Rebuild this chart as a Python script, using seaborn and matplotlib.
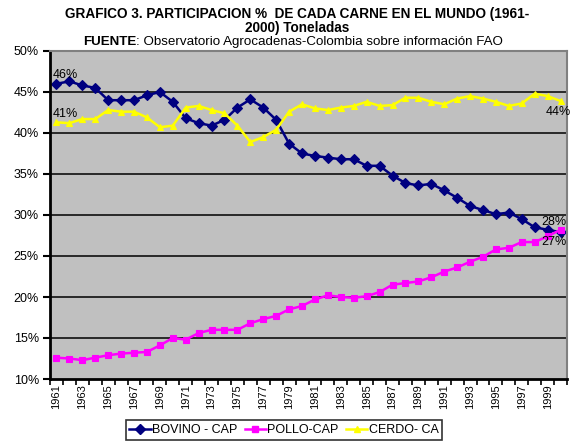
import numpy as np
import pandas as pd
import matplotlib
matplotlib.use("Agg")
import matplotlib.pyplot as plt
from matplotlib.ticker import FixedLocator, FuncFormatter
import seaborn as sns

years = list(range(1961, 2001))
bovino = [46.0, 46.3, 45.8, 45.5, 44.0, 44.0, 44.0, 44.6, 45.0, 43.8,
          41.8, 41.2, 40.9, 41.6, 43.1, 44.1, 43.1, 41.6, 38.7, 37.5,
          37.2, 37.0, 36.8, 36.8, 36.0, 36.0, 34.8, 33.9, 33.6, 33.8,
          33.0, 32.1, 31.1, 30.6, 30.1, 30.3, 29.5, 28.5, 28.2, 27.9]
pollo = [12.6, 12.5, 12.3, 12.6, 12.9, 13.1, 13.2, 13.3, 14.1, 15.0,
         14.8, 15.6, 16.0, 16.0, 16.0, 16.8, 17.3, 17.7, 18.5, 18.9,
         19.7, 20.2, 20.0, 19.9, 20.1, 20.6, 21.5, 21.7, 21.9, 22.4,
         23.1, 23.6, 24.3, 24.9, 25.8, 26.0, 26.7, 26.7, 27.4, 28.2]
cerdo = [41.3, 41.2, 41.7, 41.7, 42.8, 42.6, 42.6, 41.9, 40.7, 40.9,
         43.1, 43.3, 42.8, 42.4, 40.9, 38.9, 39.5, 40.4, 42.6, 43.5,
         43.0, 42.8, 43.1, 43.3, 43.8, 43.3, 43.4, 44.3, 44.3, 43.8,
         43.5, 44.2, 44.5, 44.2, 43.8, 43.3, 43.6, 44.8, 44.5, 43.9]
series_names = ["BOVINO - CAP", "POLLO-CAP", "CERDO- CA"]
colors = ["#000080", "#FF00FF", "#FFFF00"]
markers = ["D", "s", "^"]
y_ticks = [10, 15, 20, 25, 30, 35, 40, 45, 50]

df = pd.DataFrame({
    "year": years * 3,
    "value": bovino + pollo + cerdo,
    "serie": [series_names[0]] * 40 + [series_names[1]] * 40 + [series_names[2]] * 40,
})

plt.rcParams['font.family'] = ['Liberation Sans', 'DejaVu Sans']
fig = plt.figure(figsize=(5.73, 4.42), dpi=100)
ax = fig.add_axes([50/573, 1-379/442, 517/573, 328/442])
ax.set_facecolor("#C0C0C0")

sns.lineplot(data=df, x="year", y="value", hue="serie", style="serie",
             palette=dict(zip(series_names, colors)),
             markers=dict(zip(series_names, markers)),
             dashes=False, ax=ax, linewidth=1.8, markersize=5,
             markeredgewidth=0.8, legend=False)
for line, c in zip(ax.get_lines(), colors):
    line.set_markeredgecolor(c)

ax.set_xlim(1960.5, 2000.5)
ax.set_ylim(10, 50)
ax.set_yticks(y_ticks)
ax.yaxis.set_major_formatter(FuncFormatter(lambda v, p: f"{int(v)}%"))
for yv in y_ticks[1:-1]:
    ax.axhline(yv, color="black", lw=1.1, zorder=1)
ax.set_xticks(years[::2])
ax.set_xticklabels([str(y) for y in years[::2]], rotation=90)
ax.xaxis.set_minor_locator(FixedLocator(np.arange(1960.5, 2001, 1)))
ax.tick_params(axis="x", which="major", length=0, labelsize=8, pad=4)
ax.tick_params(axis="x", which="minor", length=4, width=1.2, direction="out")
ax.tick_params(axis="y", length=5, width=1.5, labelsize=9, pad=3)
ax.set_xlabel("")
ax.set_ylabel("")
for s in ["left", "bottom"]:
    ax.spines[s].set_color("black")
    ax.spines[s].set_linewidth(2)
for s in ["top", "right"]:
    ax.spines[s].set_color("#808080")
    ax.spines[s].set_linewidth(1.5)

ax.annotate("46%", (years[0], bovino[0]), xytext=(-3, 4), textcoords="offset points", fontsize=9)
ax.annotate("41%", (years[0], cerdo[0]), xytext=(-3, 4), textcoords="offset points", fontsize=9)
ax.annotate("44%", (years[-1], cerdo[-1]), xytext=(-11, -10), textcoords="offset points", fontsize=9)
ax.annotate("28%", (years[-1], bovino[-1]), xytext=(-14, 5), textcoords="offset points", fontsize=9)
ax.annotate("27%", (years[-1], pollo[-1]), xytext=(-14, -11), textcoords="offset points", fontsize=9)

fig.text(297/573, 1-14/442, "GRAFICO 3. PARTICIPACION %  DE CADA CARNE EN EL MUNDO (1961-",
         ha="center", va="center", fontsize=9.8, fontweight="bold")
fig.text(297/573, 1-28/442, "2000) Toneladas", ha="center", va="center", fontsize=9.8, fontweight="bold")
t1 = fig.text(83/573, 1-42/442, "FUENTE", ha="left", va="center", fontsize=9.6, fontweight="bold")
fig.canvas.draw()
bb = t1.get_window_extent()
fig.text(bb.x1/573, 1-42/442, ": Observatorio Agrocadenas-Colombia sobre información FAO",
         ha="left", va="center", fontsize=9.6)

handles = [plt.Line2D([], [], color=c, marker=m, lw=1.8, markersize=5, markeredgecolor=c)
           for c, m in zip(colors, markers)]
leg = fig.legend(handles, series_names, loc="center", bbox_to_anchor=(284/573, 1-430/442),
                 ncol=3, fontsize=9, frameon=True, fancybox=False, edgecolor="black",
                 handlelength=1.7, handletextpad=0.1, columnspacing=0.6,
                 borderpad=0.3)
leg.get_frame().set_linewidth(1.2)

fig.savefig("out.png", dpi=100)
